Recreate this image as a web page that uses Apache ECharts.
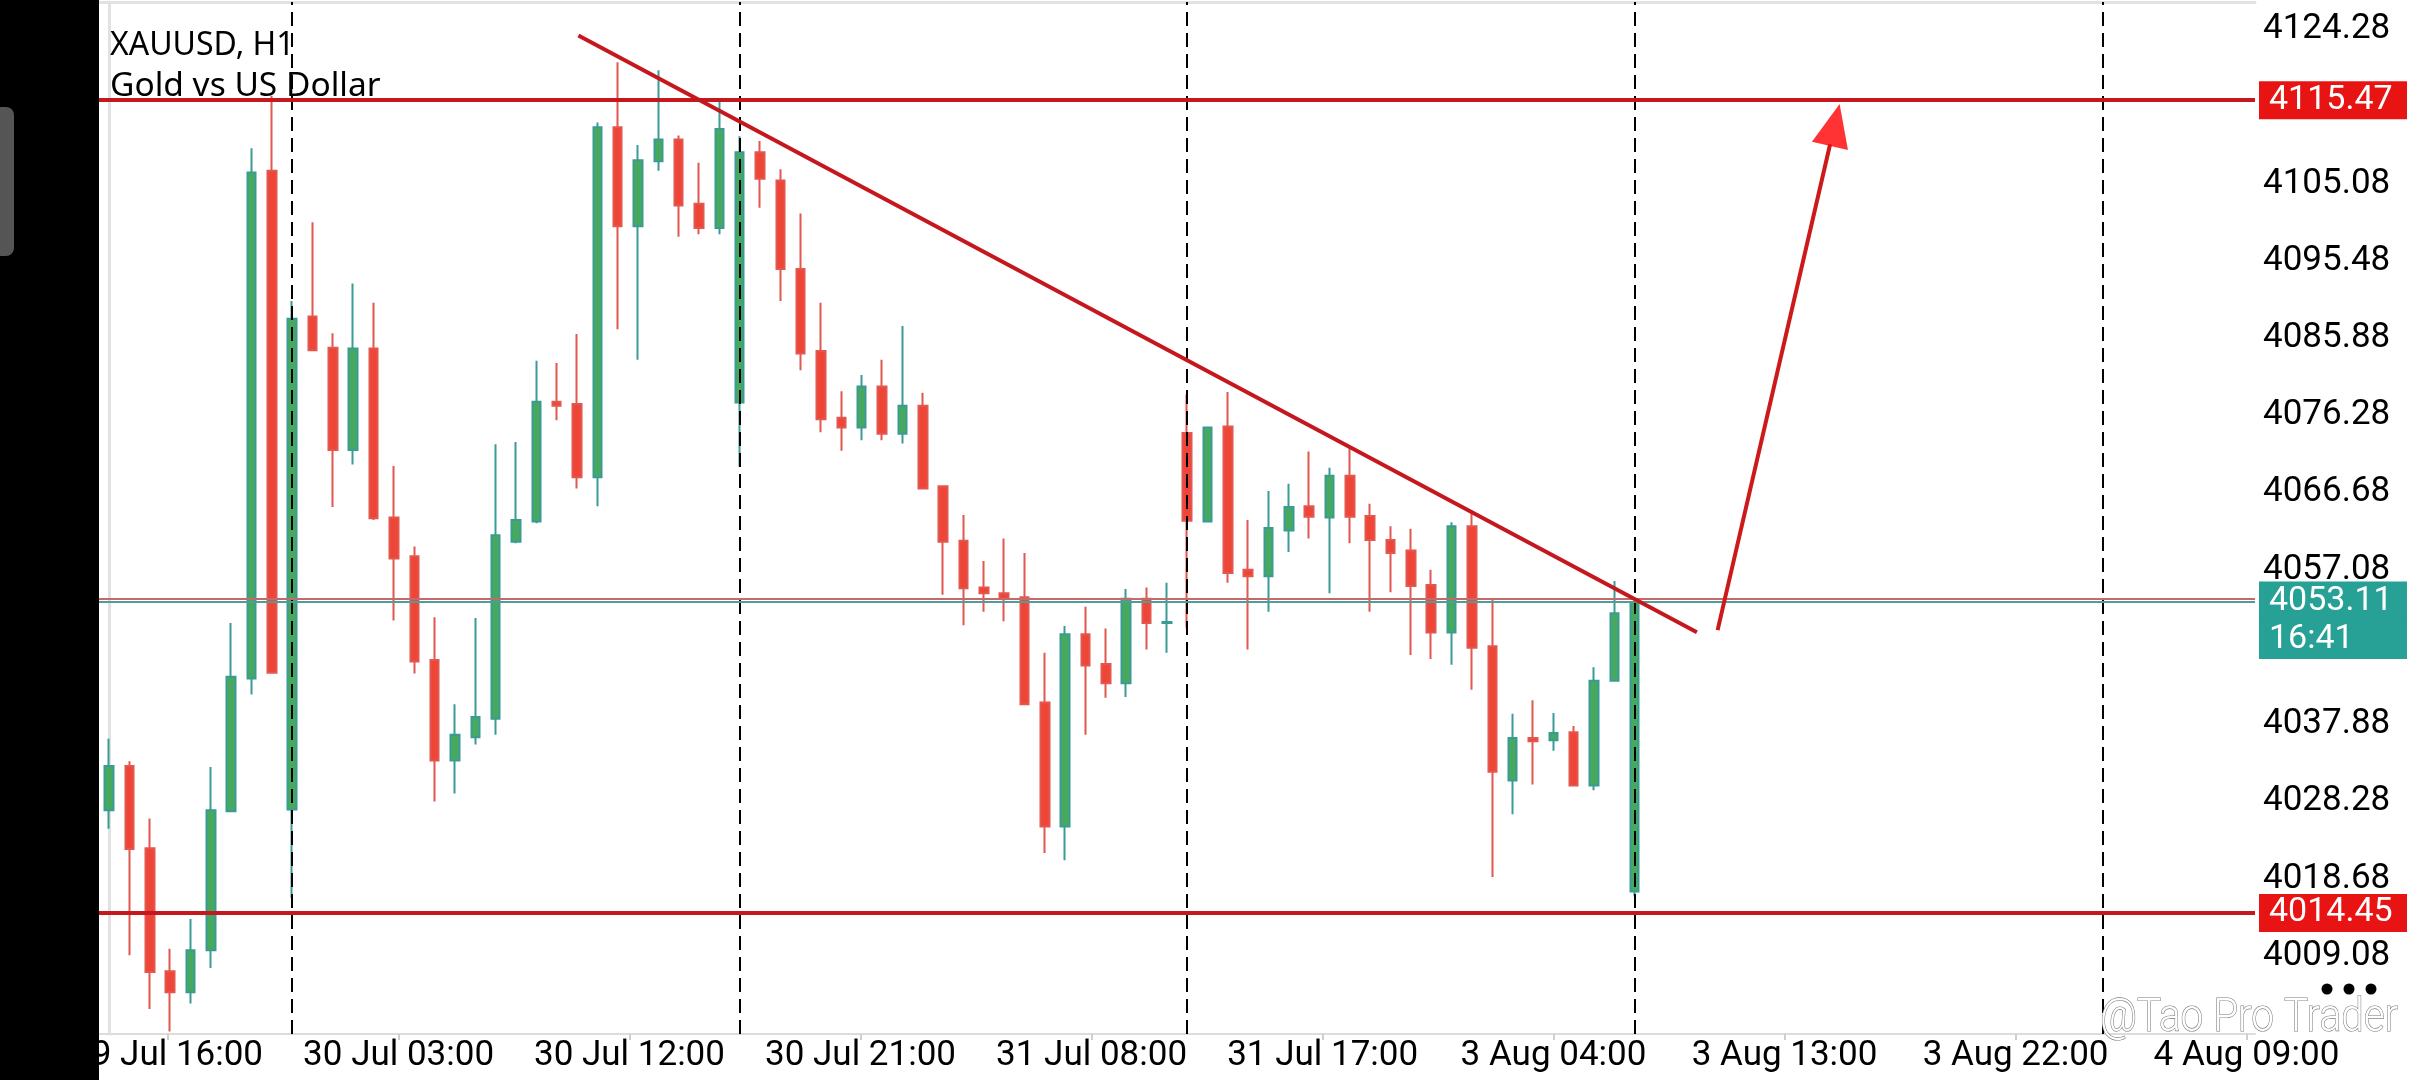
<!DOCTYPE html>
<html>
<head>
<meta charset="utf-8">
<script src="https://cdn.jsdelivr.net/npm/echarts@6/dist/echarts.min.js"></script>
<style>
html,body{margin:0;padding:0;background:#ffffff;}
#chart{width:2436px;height:1080px;}
</style>
</head>
<body>
<div id="chart"></div>
<script>
// ---- Candle values (XAUUSD H1) ----
const opens  = [4027.2,4032.7,4022.5,4007.2,4004.6,4009.8,4027.1,4043.6,4106.7,4027.3,
                4088.6,4084.7,4072.0,4084.6,4063.6,4058.8,4045.9,4033.4,4036.3,4038.6,
                4060.6,4063.1,4078.0,4077.7,4068.6,4112.1,4099.8,4107.9,4110.6,4102.6,
                4099.6,4077.9,4109.0,4105.5,4094.5,4084.3,4076.0,4074.8,4079.9,4074.0,
                4077.5,4067.5,4060.7,4054.9,4054.2,4053.7,4040.6,4025.2,4049.1,4045.4,
                4043.0,4053.5,4050.5,4074.1,4063.1,4074.9,4057.1,4056.3,4062.0,4065.0,
                4063.6,4068.8,4063.8,4060.8,4059.5,4055.2,4049.3,4062.5,4047.6,4030.9,
                4036.2,4035.9,4036.9,4030.3,4043.3,4017.1];
const closes = [4032.7,4022.4,4007.1,4004.6,4009.8,4027.2,4043.8,4106.5,4044.3,4088.3,
                4084.4,4072.0,4084.6,4063.5,4058.5,4045.7,4033.4,4036.6,4038.8,4061.4,
                4063.3,4078.0,4077.5,4068.6,4112.1,4099.8,4108.0,4110.6,4102.4,4099.6,
                4111.9,4109.0,4105.7,4094.5,4084.0,4075.8,4074.8,4079.9,4074.0,4077.5,
                4067.2,4060.6,4054.8,4054.2,4053.5,4040.4,4025.2,4049.1,4045.2,4043.0,
                4053.5,4050.5,4050.6,4063.2,4074.8,4056.7,4056.3,4062.3,4064.9,4063.7,
                4068.8,4063.7,4060.8,4059.2,4055.1,4049.3,4062.5,4047.4,4032.0,4036.2,
                4035.8,4036.8,4030.3,4043.3,4051.7,4053.11];
const lows   = [4024.9,4009.2,4002.5,3999.7,4003.2,4007.6,4027.0,4041.6,4044.2,4016.3,
                4084.3,4064.9,4070.2,4063.3,4050.8,4044.2,4028.3,4029.3,4035.4,4036.6,
                4060.4,4062.9,4075.7,4067.2,4065.0,4087.0,4083.2,4106.7,4098.5,4098.8,
                4098.8,4069.9,4102.1,4090.5,4081.9,4074.2,4071.9,4073.2,4073.2,4072.8,
                4067.1,4054.0,4050.2,4051.9,4050.7,4040.3,4021.9,4021.0,4036.6,4041.2,
                4041.3,4047.2,4046.8,4049.9,4063.0,4055.5,4047.2,4051.9,4059.3,4061.0,
                4054.2,4060.4,4051.9,4054.3,4046.5,4046.0,4045.3,4042.2,4018.9,4026.7,
                4030.4,4034.6,4030.2,4029.7,4043.2,4016.5];
const highs  = [4036.1,4033.3,4026.2,4010.0,4013.7,4032.6,4050.5,4109.5,4116.0,4090.5,
                4100.3,4086.5,4092.7,4090.3,4070.0,4060.0,4051.2,4040.4,4051.1,4072.7,
                4073.0,4083.1,4082.8,4086.4,4112.7,4120.2,4109.9,4119.2,4111.1,4107.7,
                4115.3,4111.0,4110.4,4106.9,4101.4,4090.3,4079.3,4081.3,4083.2,4087.4,
                4079.1,4067.6,4063.9,4058.2,4061.0,4059.2,4046.8,4050.1,4052.5,4049.8,
                4054.7,4054.9,4055.5,4078.9,4074.9,4079.2,4063.3,4066.9,4067.8,4071.8,
                4069.8,4072.2,4065.3,4062.5,4062.2,4057.1,4063.0,4064.5,4053.4,4039.2,
                4040.9,4039.3,4037.7,4045.0,4055.7,4053.3];

// ---- Axes ----
const slotCount = 106;                       // visible bar slots (history + empty future)
const timeLabels = ['29 Jul 16:00','30 Jul 03:00','30 Jul 12:00','30 Jul 21:00','31 Jul 08:00',
                    '31 Jul 17:00','3 Aug 04:00','3 Aug 13:00','3 Aug 22:00','4 Aug 09:00'];
const timeLabelBars = [2.87,14.23,25.58,36.94,48.30,59.66,71.01,82.37,93.73,105.08];
const priceLabels = [4009.08,4018.68,4028.28,4037.88,4047.48,4057.08,4066.68,
                     4076.28,4085.88,4095.48,4105.08,4114.68,4124.28];
const priceMin = 3999.40, priceMax = 4127.68;

// ---- Annotations ----
const resistance = 4115.47;
const support = 4014.45;
const bid = 4053.11;
const ask = 4053.45;
const clockText = '16:41';
const separatorBars = [9, 31, 53, 75, 98];
const trendLine = [[23.07, 4123.52], [78.06, 4049.34]];
const arrowShaft = [[79.08, 4049.6], [84.61, 4110.0]];
const arrowHead = [84.84, 4112.39];

const slots = Array.from({length: slotCount}, (_, i) => String(i));
const candles = opens.map((o, i) => [o, closes[i], lows[i], highs[i]]);

const FONT = 'Roboto';
const boxLabel = (bg, txt) => ({
  show: true, position: 'end', distance: 4, formatter: txt,
  color: '#ffffff', fontFamily: FONT, fontSize: 34, lineHeight: 37,
  backgroundColor: bg, padding: [1, 10, 0, 10], width: 128
});

const chart = echarts.init(document.getElementById('chart'), null, {renderer: 'canvas'});
chart.setOption({
  animation: false,
  backgroundColor: '#ffffff',
  title: {
    text: 'XAUUSD, H1', subtext: 'Gold vs US Dollar',
    left: 110, top: 26, itemGap: 0, padding: 0,
    textStyle: {fontFamily: 'Noto Sans', fontSize: 32, fontWeight: 'normal', color: '#000', lineHeight: 40},
    subtextStyle: {fontFamily: 'Noto Sans', fontSize: 33.5, color: '#000', lineHeight: 40}
  },
  grid: {left: 99, right: 181, top: 2, bottom: 46, containLabel: false},
  xAxis: [
    {
      type: 'category', data: slots, boundaryGap: true, position: 'top',
      axisLine: {show: true, lineStyle: {color: '#e2e2e2', width: 3}},
      axisTick: {show: false}, axisLabel: {show: false}, splitLine: {show: false}
    },
    {
      type: 'value', min: -0.5, max: slotCount - 0.5, position: 'bottom',
      axisLine: {show: true, onZero: false, lineStyle: {color: '#dcdcdc', width: 2}},
      axisTick: {show: true, length: 6, customValues: timeLabelBars, lineStyle: {color: '#cfcfcf', width: 2}},
      axisLabel: {
        show: true, customValues: timeLabelBars, margin: 5,
        fontFamily: FONT, fontSize: 35, color: '#000',
        formatter: (v) => {
          let best = 0;
          timeLabelBars.forEach((p, i) => { if (Math.abs(p - v) < Math.abs(timeLabelBars[best] - v)) best = i; });
          return timeLabels[best];
        }
      },
      splitLine: {show: false}
    }
  ],
  yAxis: {
    type: 'value', position: 'right', min: priceMin, max: priceMax, scale: true,
    axisLine: {show: true, lineStyle: {color: '#e2e2e2', width: 3}},
    axisTick: {show: false},
    splitLine: {show: false},
    axisLabel: {
      show: true, customValues: priceLabels, margin: 8, showMinLabel: true, showMaxLabel: true,
      fontFamily: FONT, fontSize: 35, color: '#000',
      formatter: (v) => Number(v).toFixed(2)
    }
  },
  series: [
    {
      name: 'separators', type: 'line', xAxisIndex: 1, yAxisIndex: 0, data: [], z: 1,
      markLine: {
        silent: true, symbol: ['none', 'none'], animation: false,
        lineStyle: {color: '#000', type: [14, 7], width: 2},
        label: {show: false},
        data: separatorBars.map(b => ({xAxis: b}))
      }
    },
    {
      name: 'XAUUSD', type: 'candlestick', xAxisIndex: 0, yAxisIndex: 0, z: 3,
      data: candles, barWidth: 9,
      itemStyle: {
        color: '#47a95e', color0: '#ef4536',
        borderColor: '#3a9b95', borderColor0: '#e2574f', borderWidth: 2
      }
    },
    {
      name: 'levels', type: 'line', xAxisIndex: 1, yAxisIndex: 0, data: [], z: 5, clip: false,
      markLine: {
        silent: true, symbol: ['none', 'none'], animation: false,
        data: [
          {yAxis: bid, lineStyle: {color: '#4f9c9a', width: 0, type: 'solid'},
            label: Object.assign(boxLabel('#27a096', clockText), {lineHeight: 38, padding: [19, 10, 0, 10], verticalAlign: 'top'})},
          {yAxis: ask, lineStyle: {color: '#c46a6a', width: 2, type: 'solid'}, label: {show: false}},
          {yAxis: bid, lineStyle: {color: '#4f9c9a', width: 2, type: 'solid'},
            label: Object.assign(boxLabel('#27a096', bid.toFixed(2)), {lineHeight: 38, padding: [2, 10, 1, 10], verticalAlign: 'middle'})},
          {yAxis: resistance, lineStyle: {color: '#c4181e', width: 4, type: 'solid'},
            label: boxLabel('#e81414', resistance.toFixed(2))},
          {yAxis: support, lineStyle: {color: '#c4181e', width: 4, type: 'solid'},
            label: boxLabel('#e81414', support.toFixed(2))}
        ]
      }
    },
    {
      name: 'trend', type: 'line', xAxisIndex: 1, yAxisIndex: 0, z: 6,
      data: trendLine, symbol: 'none', lineStyle: {color: '#c4181e', width: 4}
    },
    {
      name: 'arrow', type: 'line', xAxisIndex: 1, yAxisIndex: 0, z: 6,
      data: arrowShaft, symbol: 'none', lineStyle: {color: '#cc1a1a', width: 4}
    },
    {
      name: 'arrowHead', type: 'scatter', xAxisIndex: 1, yAxisIndex: 0, z: 7,
      data: [arrowHead], symbol: 'triangle', symbolSize: [37, 43], symbolRotate: -13,
      itemStyle: {color: '#ff0000'}
    }
  ],
  graphic: [
    {type: 'rect', z: 100, shape: {x: 0, y: 0, width: 99, height: 1080}, style: {fill: '#000'}},
    {type: 'rect', z: 101, shape: {x: -10, y: 107, width: 24, height: 149, r: 8}, style: {fill: '#555555'}},
    {type: 'circle', z: 101, shape: {cx: 2327, cy: 989, r: 5.5}, style: {fill: '#000'}},
    {type: 'circle', z: 101, shape: {cx: 2349, cy: 989, r: 5.5}, style: {fill: '#000'}},
    {type: 'circle', z: 101, shape: {cx: 2371, cy: 989, r: 5.5}, style: {fill: '#000'}},
    {type: 'text', z: 101, x: 2100, y: 1042, scaleX: 0.88,
      style: {text: '@Tao Pro Trader', fontFamily: FONT, fontSize: 46, fontWeight: 300,
              fill: '#ffffff', stroke: '#777777', lineWidth: 1.2, verticalAlign: 'bottom', align: 'left'}}
  ]
});
</script>
</body>
</html>
